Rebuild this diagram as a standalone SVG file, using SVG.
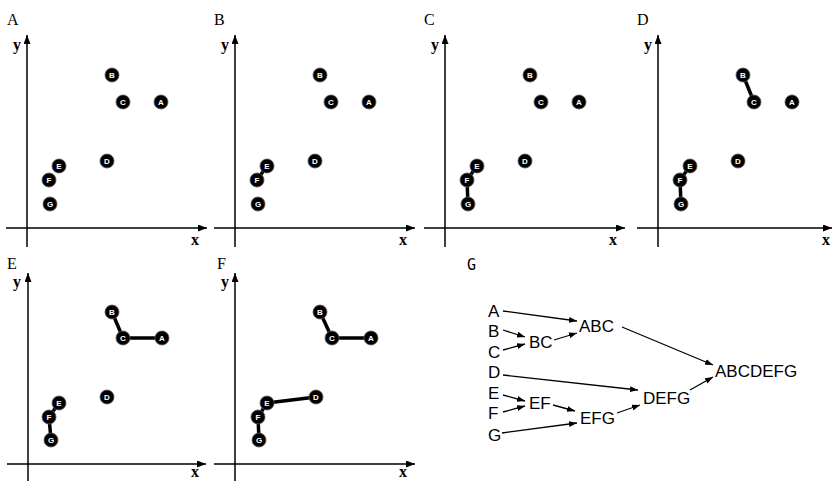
<svg xmlns="http://www.w3.org/2000/svg" width="833" height="481" viewBox="0 0 833 481">
<defs>
<style>
.plab{font-family:"Liberation Serif","DejaVu Serif",serif;font-size:16px;fill:#000}
.axlab{font-family:"Liberation Serif","DejaVu Serif",serif;font-size:16px;font-weight:bold;fill:#000}
.axis{stroke:#000;stroke-width:1.5;fill:none}
.link{stroke:#000;stroke-width:3.5;stroke-linecap:round;fill:none}
.dot{fill:#000;stroke:#555;stroke-width:0.8}
.dl{font-family:"Liberation Sans","DejaVu Sans",sans-serif;font-size:8px;font-weight:bold;fill:#fff;text-anchor:middle}
.tl{font-family:"Liberation Sans","DejaVu Sans",sans-serif;font-size:17px;fill:#000}
.tarr{stroke:#000;stroke-width:1.3;fill:none;marker-end:url(#ah)}
</style>
<marker id="ax" markerUnits="userSpaceOnUse" markerWidth="9" markerHeight="7" refX="9" refY="3.5" orient="auto">
<path d="M0,0 L9,3.5 L0,7 z" fill="#000"/>
</marker>
<marker id="ah" markerUnits="userSpaceOnUse" markerWidth="8" markerHeight="6" refX="8" refY="3" orient="auto">
<path d="M0,0 L8,3 L0,6 z" fill="#000"/>
</marker>
</defs>
<rect width="833" height="481" fill="#fff"/>

<!-- Panel A -->
<g id="panelA" transform="translate(0,0)">
<text class="plab" x="7" y="25">A</text>
<line class="axis" x1="27" y1="247" x2="27" y2="35" marker-end="url(#ax)"/>
<line class="axis" x1="6" y1="228" x2="207" y2="228" marker-end="url(#ax)"/>
<text class="axlab" x="13" y="50">y</text>
<text class="axlab" x="191" y="245">x</text>
<g id="A-nA"><circle class="dot" cx="161" cy="102" r="7"/><text class="dl" x="161" y="105">A</text></g>
<g id="A-nB"><circle class="dot" cx="112" cy="75" r="7"/><text class="dl" x="112" y="78">B</text></g>
<g id="A-nC"><circle class="dot" cx="123" cy="102" r="7"/><text class="dl" x="123" y="105">C</text></g>
<g id="A-nD"><circle class="dot" cx="107" cy="161" r="7"/><text class="dl" x="107" y="164">D</text></g>
<g id="A-nE"><circle class="dot" cx="59" cy="166" r="7"/><text class="dl" x="59" y="169">E</text></g>
<g id="A-nF"><circle class="dot" cx="49" cy="180" r="7"/><text class="dl" x="49" y="183">F</text></g>
<g id="A-nG"><circle class="dot" cx="50" cy="204" r="7"/><text class="dl" x="50" y="207">G</text></g>
</g>

<!-- Panel B -->
<g id="panelB" transform="translate(208,0)">
<text class="plab" x="6" y="25">B</text>
<line class="axis" x1="27" y1="247" x2="27" y2="35" marker-end="url(#ax)"/>
<line class="axis" x1="6" y1="228" x2="207" y2="228" marker-end="url(#ax)"/>
<text class="axlab" x="13" y="50">y</text>
<text class="axlab" x="191" y="245">x</text>
<g id="B-links"><line class="link" x1="59" y1="166" x2="49" y2="180"/></g>
<g id="B-nA"><circle class="dot" cx="161" cy="102" r="7"/><text class="dl" x="161" y="105">A</text></g>
<g id="B-nB"><circle class="dot" cx="112" cy="75" r="7"/><text class="dl" x="112" y="78">B</text></g>
<g id="B-nC"><circle class="dot" cx="123" cy="102" r="7"/><text class="dl" x="123" y="105">C</text></g>
<g id="B-nD"><circle class="dot" cx="107" cy="161" r="7"/><text class="dl" x="107" y="164">D</text></g>
<g id="B-nE"><circle class="dot" cx="59" cy="166" r="7"/><text class="dl" x="59" y="169">E</text></g>
<g id="B-nF"><circle class="dot" cx="49" cy="180" r="7"/><text class="dl" x="49" y="183">F</text></g>
<g id="B-nG"><circle class="dot" cx="50" cy="204" r="7"/><text class="dl" x="50" y="207">G</text></g>
</g>

<!-- Panel C -->
<g id="panelC" transform="translate(418,0)">
<text class="plab" x="6" y="25">C</text>
<line class="axis" x1="27" y1="247" x2="27" y2="35" marker-end="url(#ax)"/>
<line class="axis" x1="6" y1="228" x2="207" y2="228" marker-end="url(#ax)"/>
<text class="axlab" x="13" y="50">y</text>
<text class="axlab" x="191" y="245">x</text>
<g id="C-links"><line class="link" x1="59" y1="166" x2="49" y2="180"/><line class="link" x1="49" y1="180" x2="50" y2="204"/></g>
<g id="C-nA"><circle class="dot" cx="161" cy="102" r="7"/><text class="dl" x="161" y="105">A</text></g>
<g id="C-nB"><circle class="dot" cx="112" cy="75" r="7"/><text class="dl" x="112" y="78">B</text></g>
<g id="C-nC"><circle class="dot" cx="123" cy="102" r="7"/><text class="dl" x="123" y="105">C</text></g>
<g id="C-nD"><circle class="dot" cx="107" cy="161" r="7"/><text class="dl" x="107" y="164">D</text></g>
<g id="C-nE"><circle class="dot" cx="59" cy="166" r="7"/><text class="dl" x="59" y="169">E</text></g>
<g id="C-nF"><circle class="dot" cx="49" cy="180" r="7"/><text class="dl" x="49" y="183">F</text></g>
<g id="C-nG"><circle class="dot" cx="50" cy="204" r="7"/><text class="dl" x="50" y="207">G</text></g>
</g>

<!-- Panel D -->
<g id="panelD" transform="translate(631,0)">
<text class="plab" x="6" y="25">D</text>
<line class="axis" x1="27" y1="247" x2="27" y2="35" marker-end="url(#ax)"/>
<line class="axis" x1="6" y1="228" x2="201" y2="228" marker-end="url(#ax)"/>
<text class="axlab" x="13" y="50">y</text>
<text class="axlab" x="191" y="245">x</text>
<g id="D-links"><line class="link" x1="59" y1="166" x2="49" y2="180"/><line class="link" x1="49" y1="180" x2="50" y2="204"/><line class="link" x1="112" y1="75" x2="123" y2="102"/></g>
<g id="D-nA"><circle class="dot" cx="161" cy="102" r="7"/><text class="dl" x="161" y="105">A</text></g>
<g id="D-nB"><circle class="dot" cx="112" cy="75" r="7"/><text class="dl" x="112" y="78">B</text></g>
<g id="D-nC"><circle class="dot" cx="123" cy="102" r="7"/><text class="dl" x="123" y="105">C</text></g>
<g id="D-nD"><circle class="dot" cx="107" cy="161" r="7"/><text class="dl" x="107" y="164">D</text></g>
<g id="D-nE"><circle class="dot" cx="59" cy="166" r="7"/><text class="dl" x="59" y="169">E</text></g>
<g id="D-nF"><circle class="dot" cx="49" cy="180" r="7"/><text class="dl" x="49" y="183">F</text></g>
<g id="D-nG"><circle class="dot" cx="50" cy="204" r="7"/><text class="dl" x="50" y="207">G</text></g>
</g>

<!-- Panel E -->
<g id="panelE" transform="translate(0,237)">
<text class="plab" x="7" y="32">E</text>
<line class="axis" x1="28" y1="250" x2="28" y2="36" marker-end="url(#ax)"/>
<line class="axis" x1="7" y1="227" x2="206" y2="227" marker-end="url(#ax)"/>
<text class="axlab" x="13" y="50">y</text>
<text class="axlab" x="191" y="240">x</text>
<g id="E-links"><line class="link" x1="59" y1="166" x2="49" y2="180"/><line class="link" x1="49" y1="180" x2="51" y2="203"/><line class="link" x1="112" y1="75" x2="123" y2="101"/><line class="link" x1="123" y1="101" x2="162" y2="101"/></g>
<g id="E-nA"><circle class="dot" cx="162" cy="101" r="7"/><text class="dl" x="162" y="104">A</text></g>
<g id="E-nB"><circle class="dot" cx="112" cy="75" r="7"/><text class="dl" x="112" y="78">B</text></g>
<g id="E-nC"><circle class="dot" cx="123" cy="101" r="7"/><text class="dl" x="123" y="104">C</text></g>
<g id="E-nD"><circle class="dot" cx="107" cy="160" r="7"/><text class="dl" x="107" y="163">D</text></g>
<g id="E-nE"><circle class="dot" cx="59" cy="166" r="7"/><text class="dl" x="59" y="169">E</text></g>
<g id="E-nF"><circle class="dot" cx="49" cy="180" r="7"/><text class="dl" x="49" y="183">F</text></g>
<g id="E-nG"><circle class="dot" cx="51" cy="203" r="7"/><text class="dl" x="51" y="206">G</text></g>
</g>

<!-- Panel F -->
<g id="panelF" transform="translate(208,237)">
<text class="plab" x="9" y="32">F</text>
<line class="axis" x1="27" y1="250" x2="27" y2="36" marker-end="url(#ax)"/>
<line class="axis" x1="6" y1="227" x2="207" y2="227" marker-end="url(#ax)"/>
<text class="axlab" x="13" y="50">y</text>
<text class="axlab" x="191" y="240">x</text>
<g id="F-links"><line class="link" x1="59" y1="166" x2="50" y2="180"/><line class="link" x1="50" y1="180" x2="51" y2="203"/><line class="link" x1="112" y1="75" x2="124" y2="101"/><line class="link" x1="124" y1="101" x2="163" y2="101"/><line class="link" x1="59" y1="166" x2="108" y2="160"/></g>
<g id="F-nA"><circle class="dot" cx="163" cy="101" r="7"/><text class="dl" x="163" y="104">A</text></g>
<g id="F-nB"><circle class="dot" cx="112" cy="75" r="7"/><text class="dl" x="112" y="78">B</text></g>
<g id="F-nC"><circle class="dot" cx="124" cy="101" r="7"/><text class="dl" x="124" y="104">C</text></g>
<g id="F-nD"><circle class="dot" cx="108" cy="160" r="7"/><text class="dl" x="108" y="163">D</text></g>
<g id="F-nE"><circle class="dot" cx="59" cy="166" r="7"/><text class="dl" x="59" y="169">E</text></g>
<g id="F-nF"><circle class="dot" cx="50" cy="180" r="7"/><text class="dl" x="50" y="183">F</text></g>
<g id="F-nG"><circle class="dot" cx="51" cy="203" r="7"/><text class="dl" x="51" y="206">G</text></g>
</g>

<!-- Panel G: merge tree -->
<g id="panelG">
<text x="467" y="270" style="font-family:'DejaVu Sans Mono','Liberation Mono',monospace;font-size:15px;fill:#000">G</text>
<g id="connectors">
<line class="tarr" x1="503" y1="311" x2="577" y2="321"/>
<line class="tarr" x1="503" y1="330" x2="525" y2="337"/>
<line class="tarr" x1="503" y1="350" x2="525" y2="344"/>
<line class="tarr" x1="554" y1="340" x2="577" y2="333"/>
<line class="tarr" x1="622" y1="327" x2="713" y2="365"/>
<line class="tarr" x1="503" y1="375" x2="638" y2="390"/>
<line class="tarr" x1="503" y1="395" x2="525" y2="401"/>
<line class="tarr" x1="503" y1="412" x2="525" y2="406"/>
<line class="tarr" x1="553" y1="405" x2="575" y2="411"/>
<line class="tarr" x1="502" y1="433" x2="577" y2="423"/>
<line class="tarr" x1="617" y1="413" x2="640" y2="405"/>
<line class="tarr" x1="690" y1="390" x2="713" y2="377"/>
</g>
<g id="t-A"><text class="tl" x="488" y="317">A</text></g>
<g id="t-B"><text class="tl" x="488" y="337">B</text></g>
<g id="t-C"><text class="tl" x="488" y="358">C</text></g>
<g id="t-D"><text class="tl" x="488" y="378">D</text></g>
<g id="t-E"><text class="tl" x="488" y="399">E</text></g>
<g id="t-F"><text class="tl" x="488" y="419">F</text></g>
<g id="t-G"><text class="tl" x="488" y="441">G</text></g>
<g id="t-BC"><text class="tl" x="529" y="348">BC</text></g>
<g id="t-ABC"><text class="tl" x="579" y="332">ABC</text></g>
<g id="t-EF"><text class="tl" x="529" y="409">EF</text></g>
<g id="t-EFG"><text class="tl" x="580" y="424">EFG</text></g>
<g id="t-DEFG"><text class="tl" x="643" y="404">DEFG</text></g>
<g id="t-ABCDEFG"><text class="tl" x="715" y="377">ABCDEFG</text></g>
</g>
</svg>
